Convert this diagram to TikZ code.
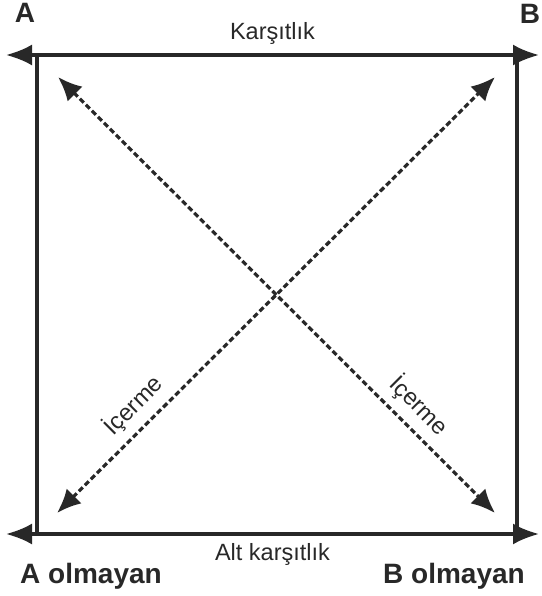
\documentclass[tikz,border=0pt]{standalone}
\usepackage{fontspec}
\setmainfont{Liberation Sans}
\usetikzlibrary{arrows.meta}
\definecolor{linegray}{RGB}{40, 40, 40}

\begin{document}
\begin{tikzpicture}[x=1pt, y=-1pt,
    side/.style={linegray, line width=3.2pt},
    diag/.style={linegray, line width=3.2pt, dash pattern=on 5.5pt off 3pt},
    lbl/.style={text=linegray, font=\fontsize{23.5}{28}\selectfont, inner sep=0pt},
    corner/.style={text=linegray, font=\fontsize{28}{32}\selectfont\bfseries, inner sep=0pt}]
    \useasboundingbox (0,0) rectangle (541,596);
    % box corners and arrow ends
    \coordinate (tl) at (37, 55);
    \coordinate (tr) at (517, 55);
    \coordinate (bl) at (37, 534);
    \coordinate (br) at (517, 534);
    \coordinate (tlend) at (6, 55);
    \coordinate (trend) at (539, 55);
    \coordinate (blend) at (6, 534);
    \coordinate (brend) at (539, 534);
    \coordinate (dtl) at (58, 77);
    \coordinate (dtr) at (495, 77);
    \coordinate (dbl) at (57, 513);
    \coordinate (dbr) at (495, 513);
    % corner labels
    \node[corner] (nA) at (25, 13) {A};
    \node[corner] (nB) at (530, 14) {B};
    \node[corner, anchor=base] (notA) at (91, 583) {A olmayan};
    \node[corner, anchor=base] (notB) at (454, 583) {B olmayan};
    % sides
    \draw[side, {Latex[length=26pt, width=21pt]}-{Latex[length=26pt, width=21pt]}] (tlend) -- (trend)
      node[lbl, midway, above=9pt] (kars) {Karşıtlık};
    \draw[side, {Latex[length=26pt, width=21pt]}-{Latex[length=26pt, width=21pt]}] (blend) -- (brend)
      node[lbl, pos=0.5, below=8pt] (altkars) {Alt karşıtlık};
    \draw[side] (tl) -- (bl);
    \draw[side] (tr) -- (br);
    % diagonals
    \draw[diag, {Latex[length=24pt, width=21pt]}-{Latex[length=24pt, width=21pt]}] (dbl) -- (dtr)
      node[lbl, pos=0.21, sloped, above=8pt] (icl) {İçerme};
    \draw[diag, {Latex[length=24pt, width=21pt]}-{Latex[length=24pt, width=21pt]}] (dtl) -- (dbr)
      node[lbl, pos=0.79, sloped, above=8pt] (icr) {İçerme};
\end{tikzpicture}
\end{document}
